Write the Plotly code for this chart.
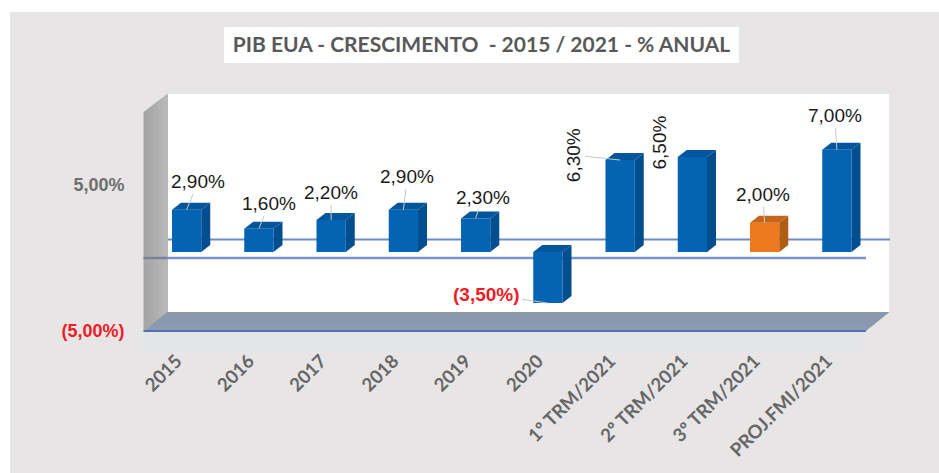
import plotly.graph_objects as go

categories = ["2015", "2016", "2017", "2018", "2019", "2020",
              "1º TRM/2021", "2º TRM/2021", "3º TRM/2021", "PROJ.FMI/2021"]
values = [2.9, 1.6, 2.2, 2.9, 2.3, -3.5, 6.3, 6.5, 2.0, 7.0]
value_labels = ["2,90%", "1,60%", "2,20%", "2,90%", "2,30%", "(3,50%)",
                "6,30%", "6,50%", "2,00%", "7,00%"]
y_tick_values = [-5, 5]
y_tick_labels = ['<span style="color:#EE1C25">(5,00%)</span>', "5,00%"]
title_text = "PIB EUA - CRESCIMENTO  - 2015 / 2021 - % ANUAL"

W, H = 939, 473
FRONT_L, FRONT_R, FRONT_B, FRONT_T = 143.5, 866, 331, 112
BACK_L, BACK_R, BACK_B, BACK_T = 168, 889, 312, 94
PX_PER_UNIT = 14.6
Y_TOP = -5 + (FRONT_B - FRONT_T) / PX_PER_UNIT
BAR_SHIFT_X, BAR_SHIFT_Y = 7.0, 6.0
BAR_WIDTH = 0.405
px_per_cat = (FRONT_R - FRONT_L) / len(categories)
DEPTH_X = 9 / px_per_cat
DEPTH_Y = 7 / PX_PER_UNIT

# label centre relative to the bar's top centre (pixels)
label_ax = [11.5, 10, 0, 4, 7, -61, -47, -33, -2, -2]
label_ay = [-28, -25, -27, -33, -21, -9, -5, -15, -28, -34]
label_rot = [0, 0, 0, 0, 0, 0, -90, -90, 0, 0]
NARROW = "Liberation Sans, Arial, sans-serif"
CALIBRI = "Lato, Carlito, sans-serif"

FRONT = ["#ED7A1E" if i == 8 else "#0563B4" for i in range(len(values))]
SIDE = ["#B35C14" if i == 8 else "#034E8E" for i in range(len(values))]
TOP = ["#C4661A" if i == 8 else "#03569C" for i in range(len(values))]


def rect(x0, y0, x1, y1, color):
    return dict(type="rect", xref="paper", yref="paper", layer="below",
                x0=x0 / W, x1=x1 / W, y0=1 - y0 / H, y1=1 - y1 / H,
                fillcolor=color, line_width=0)


def poly(points, color):
    path = "M" + " L".join(f"{x / W:.5f},{1 - y / H:.5f}" for x, y in points) + " Z"
    return dict(type="path", xref="paper", yref="paper", layer="below", path=path,
                fillcolor=color, line_width=0)


def seg(x0, y0, x1, y1, color, width):
    return dict(type="line", xref="paper", yref="paper", layer="below",
                x0=x0 / W, x1=x1 / W, y0=1 - y0 / H, y1=1 - y1 / H,
                line=dict(color=color, width=width))


shapes = [
    rect(10, 12, W, H, "#E7E5E5"),
    rect(143, 333, 862, 352, "#E3E5E9"),
    rect(224, 27, 739, 63, "#FFFFFF"),
    rect(BACK_L, BACK_T, BACK_R, BACK_B, "#FFFFFF"),
]
# left wall: each lighter step painted over the previous one, so no seams show
wall_cols = ["#A6A6A6", "#AAAAAA", "#AEAEAE", "#B3B3B3", "#B7B7B7"]
n = len(wall_cols)
for k, c in enumerate(wall_cols):
    a = k / n
    xa = FRONT_L + (BACK_L - FRONT_L) * a
    ta = FRONT_T + (BACK_T - FRONT_T) * a
    ba = FRONT_B + (BACK_B - FRONT_B) * a
    shapes.append(poly([(xa, ta), (BACK_L, BACK_T), (BACK_L, BACK_B), (xa, ba)], c))
# floor: same painting order
floor_cols = ["#8C9CB4", "#8A99B0", "#8999AD", "#8C99AB"]
n = len(floor_cols)
for k, c in enumerate(floor_cols):
    a = k / n
    la = FRONT_L + (BACK_L - FRONT_L) * a
    ra = FRONT_R + (BACK_R - FRONT_R) * a
    ya = FRONT_B + (BACK_B - FRONT_B) * a
    shapes.append(poly([(la, ya), (ra, ya), (BACK_R, BACK_B), (BACK_L, BACK_B)], c))
shapes += [
    seg(FRONT_L, FRONT_B, FRONT_R, FRONT_B, "#4F75B0", 2),
    seg(BACK_L, 239.5, 890, 239.5, "#6C8CC4", 2),
    seg(FRONT_L, 258, FRONT_L + 24, 258, "#7A7F9C", 2.4),
    seg(FRONT_L + 24, 258, FRONT_R, 258, "#7A93CC", 2.4),
]

fig = go.Figure()

# carries the visible category and value axes
fig.add_trace(go.Scatter(x=list(range(len(categories))), y=values, mode="markers",
                         marker=dict(opacity=0), hoverinfo="skip", showlegend=False))

# extruded faces of each bar, derived from its value on the shifted axes
for i, v in enumerate(values):
    xl, xr = i - BAR_WIDTH / 2, i + BAR_WIDTH / 2
    top = max(v, 0)
    fig.add_trace(go.Scatter(
        x=[xr, xr + DEPTH_X, xr + DEPTH_X, xr, xr],
        y=[0, DEPTH_Y, v + DEPTH_Y, v, 0],
        xaxis="x2", yaxis="y2", mode="lines", line=dict(width=0, color=SIDE[i]),
        fill="toself", fillcolor=SIDE[i], hoverinfo="skip", showlegend=False))
    fig.add_trace(go.Scatter(
        x=[xl, xl + DEPTH_X, xr + DEPTH_X, xr, xl],
        y=[top, top + DEPTH_Y, top + DEPTH_Y, top, top],
        xaxis="x2", yaxis="y2", mode="lines", line=dict(width=0, color=TOP[i]),
        fill="toself", fillcolor=TOP[i], hoverinfo="skip", showlegend=False))

fig.add_trace(go.Bar(x=list(range(len(categories))), y=values, xaxis="x2", yaxis="y2",
                     width=BAR_WIDTH, marker=dict(color=FRONT, line_width=0),
                     hoverinfo="skip", showlegend=False))

annotations = []
for i, v in enumerate(values):
    annotations.append(dict(
        x=i, y=v, xref="x2", yref="y2", text=value_labels[i],
        ax=label_ax[i], ay=label_ay[i], axref="pixel", ayref="pixel",
        showarrow=True, arrowhead=0, arrowwidth=1, standoff=0,
        arrowcolor="rgba(0,0,0,0)" if i == 7 else "#C9C9C9",
        textangle=label_rot[i],
        font=dict(family=NARROW, size=19, color="#EE1C25" if v < 0 else "#1A1A1A",
                  weight="bold" if v < 0 else "normal"),
    ))

fig.update_layout(
    width=W, height=H,
    margin=dict(l=0, r=0, t=0, b=0, pad=0, autoexpand=False),
    paper_bgcolor="#FFFFFF", plot_bgcolor="rgba(0,0,0,0)",
    autosize=False,
    showlegend=False,
    shapes=shapes,
    annotations=annotations,
    title=dict(text=title_text, x=481.5 / W, xanchor="center", y=1 - 45 / H, yanchor="middle",
               font=dict(family=CALIBRI, size=21, color="#595959", weight="bold")),
    xaxis=dict(domain=[FRONT_L / W, FRONT_R / W], range=[-0.5, len(categories) - 0.5],
               tickmode="array", tickvals=list(range(len(categories))), ticktext=categories,
               tickangle=-45, showgrid=False, zeroline=False, showline=False,
               ticks="outside", ticklen=11, tickcolor="rgba(0,0,0,0)", ticklabelshift=-3,
               automargin=False,
               tickfont=dict(family=CALIBRI, size=18.5, color="#666666", weight="bold"),
               anchor="y"),
    yaxis=dict(domain=[1 - FRONT_B / H, 1 - FRONT_T / H], range=[-5, Y_TOP],
               tickmode="array", tickvals=y_tick_values, ticktext=y_tick_labels,
               showgrid=False, zeroline=False, showline=False, ticks="",
               ticklabelstandoff=18, automargin=False,
               tickfont=dict(family=NARROW, size=18, color="#6E6E6E", weight="bold"),
               anchor="x"),
    xaxis2=dict(domain=[(FRONT_L + BAR_SHIFT_X) / W, (FRONT_R + BAR_SHIFT_X) / W],
                range=[-0.5, len(categories) - 0.5], visible=False, anchor="y2", automargin=False),
    yaxis2=dict(domain=[1 - (FRONT_B - BAR_SHIFT_Y) / H, 1 - (FRONT_T - BAR_SHIFT_Y) / H],
                range=[-5, Y_TOP], visible=False, anchor="x2", automargin=False),
)

fig.write_html("out.html", config={"displayModeBar": False},
               post_script="document.body.style.margin='0';document.body.style.overflow='hidden';")
